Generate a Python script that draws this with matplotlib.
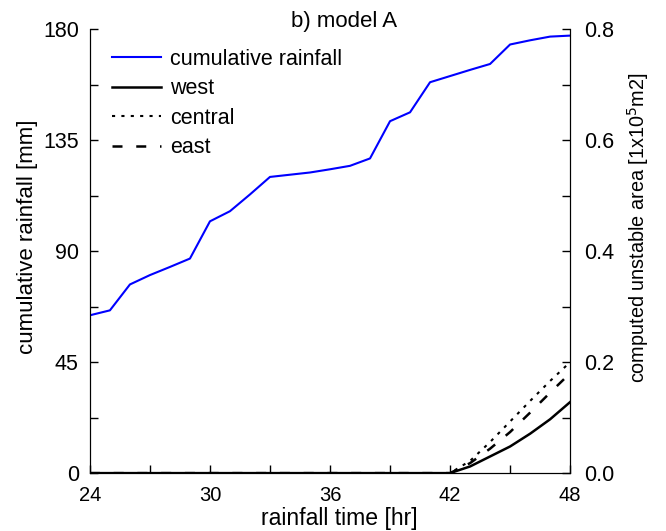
import matplotlib
matplotlib.use('Agg')
import matplotlib.pyplot as plt
from matplotlib.ticker import MultipleLocator

plt.rcParams['font.family'] = ['Liberation Sans', 'DejaVu Sans']
plt.rcParams['xtick.direction'] = 'in'
plt.rcParams['ytick.direction'] = 'in'

# hourly rainfall record, 24 h to 48 h
hours = list(range(24, 49))
rain = [64.0, 66.0, 76.5, 80.3, 83.6, 87.0, 102.1, 106.2, 113.0, 120.1,
        121.0, 121.9, 123.2, 124.6, 127.6, 142.7, 146.3, 158.5, 161.0,
        163.5, 165.9, 173.8, 175.5, 177.0, 177.4]

# computed unstable area [1x10^5 m2]
west = [0.0] * 18 + [0.0, 0.012, 0.030, 0.048, 0.071, 0.097, 0.128]
central = [0.0] * 18 + [0.0, 0.022, 0.056, 0.093, 0.130, 0.166, 0.200]
east = [0.0] * 18 + [0.0, 0.018, 0.044, 0.074, 0.109, 0.145, 0.180]

fig = plt.figure(figsize=(6.66, 5.31), dpi=100)
ax = fig.add_axes([0.135, 0.109, 0.721, 0.836])
ax2 = ax.twinx()

l0, = ax.plot(hours, rain, color='#0000ff', lw=1.5, label='cumulative rainfall')
l1, = ax2.plot(hours, west, color='black', lw=1.8, label='west')
l2, = ax2.plot(hours, central, color='black', lw=1.5, ls=(0, (1.5, 3)), label='central')
l3, = ax2.plot(hours, east, color='black', lw=1.8, ls=(0, (4, 5.5)), label='east')

ax.set_xlim(24, 48)
ax.set_ylim(0, 180)
ax2.set_ylim(0, 0.8)

ax.xaxis.set_major_locator(MultipleLocator(6))
ax.xaxis.set_minor_locator(MultipleLocator(3))
ax.yaxis.set_major_locator(MultipleLocator(45))
ax.yaxis.set_minor_locator(MultipleLocator(22.5))
ax2.yaxis.set_major_locator(MultipleLocator(0.2))
ax2.yaxis.set_minor_locator(MultipleLocator(0.1))
ax2.yaxis.set_major_formatter(plt.FormatStrFormatter('%.1f'))

for a in (ax, ax2):
    a.spines['top'].set_visible(False)
    a.tick_params(which='both', direction='in', length=6, width=1)
ax.tick_params(axis='y', which='both', right=False, labelsize=15.5, pad=8)
ax.tick_params(axis='x', which='both', top=False, labelsize=14.5, pad=9)
ax2.tick_params(axis='y', which='both', left=False, labelsize=15.5, pad=10)

ax.set_xlabel('rainfall time [hr]', fontsize=16.6)
ax.set_ylabel('cumulative rainfall [mm]', fontsize=16)
ax2.set_ylabel('computed unstable area [1x10$^5$m2]', fontsize=14.3)
ax.xaxis.set_label_coords(0.519, -0.077)
ax.yaxis.set_label_coords(-0.108, 0.532)
ax2.yaxis.set_label_coords(1.115, 0.554)
ax.set_title('b) model A', fontsize=16, x=0.529, y=1.0, pad=1.5)

ax.legend(handles=[l0, l1, l2, l3], loc='upper left', frameon=False,
          fontsize=15.5, handlelength=2.3, handletextpad=0.42,
          labelspacing=0.4, bbox_to_anchor=(0.005, 1.0))

fig.savefig('out.png', dpi=100)
